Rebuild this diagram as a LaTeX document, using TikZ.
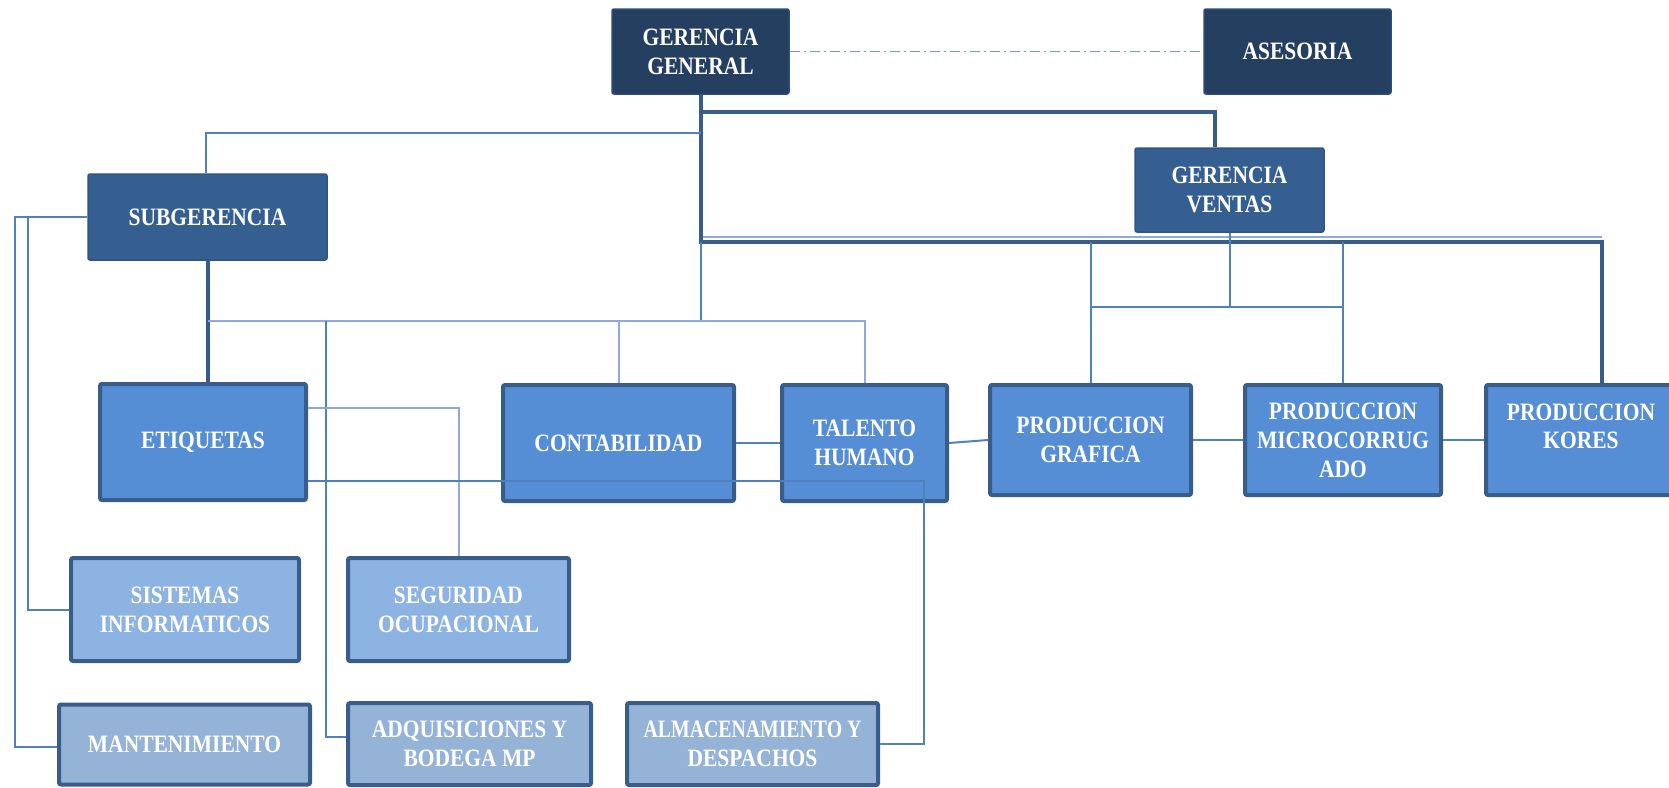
\documentclass[tikz,border=0pt]{standalone}
\usepackage{fontspec}
\setmainfont{Liberation Serif}[FakeStretch=0.86]
\usetikzlibrary{calc}
\definecolor{navy}{HTML}{243F60}
\definecolor{navyb}{HTML}{2E4D75}
\definecolor{mid}{HTML}{365F91}
\definecolor{midb}{HTML}{2F5584}
\definecolor{lv}{HTML}{558ED5}
\definecolor{bord}{HTML}{385D8A}
\definecolor{pale}{HTML}{8DB3E2}
\definecolor{paler}{HTML}{95B3D7}
\definecolor{ln}{HTML}{4F81BD}
\definecolor{lnl}{HTML}{8EAADB}
\begin{document}
\begin{tikzpicture}[x=1pt,y=-1pt,
  box/.style={rectangle, rounded corners=2pt, text=white, font=\fontsize{25}{29}\selectfont\bfseries, align=center, inner sep=2pt},
  topbox/.style={box, fill=navy, draw=navyb, line width=1.5pt},
  midbox/.style={box, fill=mid, draw=midb, line width=1.5pt},
  lvbox/.style={box, fill=lv, draw=bord, line width=4pt},
  palebox/.style={box, fill=pale, draw=bord, line width=4pt},
  palerbox/.style={box, fill=paler, draw=bord, line width=4pt},
  txt/.style={text=white, font=\fontsize{25}{28}\selectfont\bfseries, align=center, inner sep=0pt},
  thickline/.style={draw=bord, line width=4pt},
  thinline/.style={draw=ln, line width=2pt},
  lightline/.style={draw=lnl, line width=2pt},
  dashdotline/.style={draw=ln!80, line width=1.5pt, dash pattern=on 10pt off 4pt on 2pt off 4pt}
]
\useasboundingbox (0,0) rectangle (1669,787);
\clip (0,0) rectangle (1669,787);

% nodes
\node[topbox, minimum width=177pt, minimum height=85pt] (GG) at (700.5,51.5) {GERENCIA\\GENERAL};
\node[topbox, minimum width=187pt, minimum height=85pt] (ASES) at (1297.5,51.5) {ASESORIA};
\node[midbox, minimum width=189pt, minimum height=84pt] (GV) at (1229.5,190) {GERENCIA\\VENTAS};
\node[midbox, minimum width=239pt, minimum height=86pt] (SUB) at (207.5,217) {SUBGERENCIA};

\node[lvbox, minimum width=206pt, minimum height=116pt] (ETIQ) at (203,442) {ETIQUETAS};
\node[lvbox, minimum width=231pt, minimum height=116pt] (CONT) at (618.5,443) {CONTABILIDAD};
\node[lvbox, minimum width=165pt, minimum height=116pt] (TAL) at (864.5,443) {TALENTO\\HUMANO};
\node[lvbox, minimum width=201pt, minimum height=110pt] (PG) at (1090.5,440) {PRODUCCION\\GRAFICA};
\node[lvbox, minimum width=196pt, minimum height=110pt] (PM) at (1343,440) {PRODUCCION\\MICROCORRUG\\ADO};
\node[lvbox, minimum width=190pt, minimum height=110pt] (PK) at (1581,440) {};
\node[txt] (PKt) at (1581,426) {PRODUCCION\\KORES};

\node[palebox, minimum width=228pt, minimum height=103pt] (SIS) at (185,609.5) {SISTEMAS\\INFORMATICOS};
\node[palebox, minimum width=221pt, minimum height=103pt] (SEG) at (458.5,609.5) {SEGURIDAD\\OCUPACIONAL};
\node[palerbox, minimum width=251pt, minimum height=80pt] (MANT) at (184.5,744.5) {MANTENIMIENTO};
\node[palerbox, minimum width=243pt, minimum height=82pt] (ADQ) at (469.5,744) {ADQUISICIONES Y\\BODEGA MP};
\node[palerbox, minimum width=251pt, minimum height=82pt] (ALM) at (752.5,744) {\scalebox{0.92}[1]{ALMACENAMIENTO Y}\\DESPACHOS};

% helper coordinates
\coordinate (kA) at (1602,242);
\coordinate (kB) at (1215,112);
\coordinate (kC) at (206,133);
\coordinate (kD) at (0,321);
\coordinate (kE) at (326,0);
\coordinate (kF) at (15,0);
\coordinate (kG) at (28,0);
\coordinate (kH) at (924,744);
\coordinate (kI) at (0,307);
\coordinate (kJ) at (1602,237);

% thick connectors
\draw[lightline] (GG.south |- kJ) -- (kJ);
\draw[thickline] (GG.south) |- (kA) -- (kA |- PK.north);
\draw[thickline] (GG.south |- kB) -- (kB) -- (kB |- GV.north);
\draw[thickline] (SUB.south) -- (SUB.south |- ETIQ.north);

% thin connectors
\draw[thinline] (GG.south |- kC) -- (kC) -- (kC |- SUB.north);
\draw[thinline] (GG.south |- kA) -- (GG.south |- kD);
\draw[lightline] (SUB.south |- kD) -| (TAL.north);
\draw[lightline] (CONT.north |- kD) -- (CONT.north);
\draw[thinline] (kE |- kD) |- (ADQ.west |- 0,737);
\draw[thinline] (SUB.west) -- (SUB.west -| kF) |- (MANT.west |- 0,747);
\draw[thinline] (SUB.west -| kG) |- (SIS.west);
\draw[lightline] (ETIQ.east |- 0,408) -| (SEG.north);
\draw[thinline] (ETIQ.east |- 0,481) -| (kH) -- (ALM.east);

\draw[thinline] (GV.south) -- (GV.south |- kI);
\draw[thinline] (PG.north |- kI) -- (PM.north |- kI);
\draw[thinline] (PG.north |- kA) -- (PG.north);
\draw[thinline] (PM.north |- kA) -- (PM.north);

\draw[thinline] (CONT.east) -- (TAL.west);
\draw[thinline] (TAL.east) -- (PG.west);
\draw[thinline] (PG.east) -- (PM.west);
\draw[thinline] (PM.east) -- (PK.west);

\draw[dashdotline] (GG.east) -- (ASES.west);
\end{tikzpicture}
\end{document}
